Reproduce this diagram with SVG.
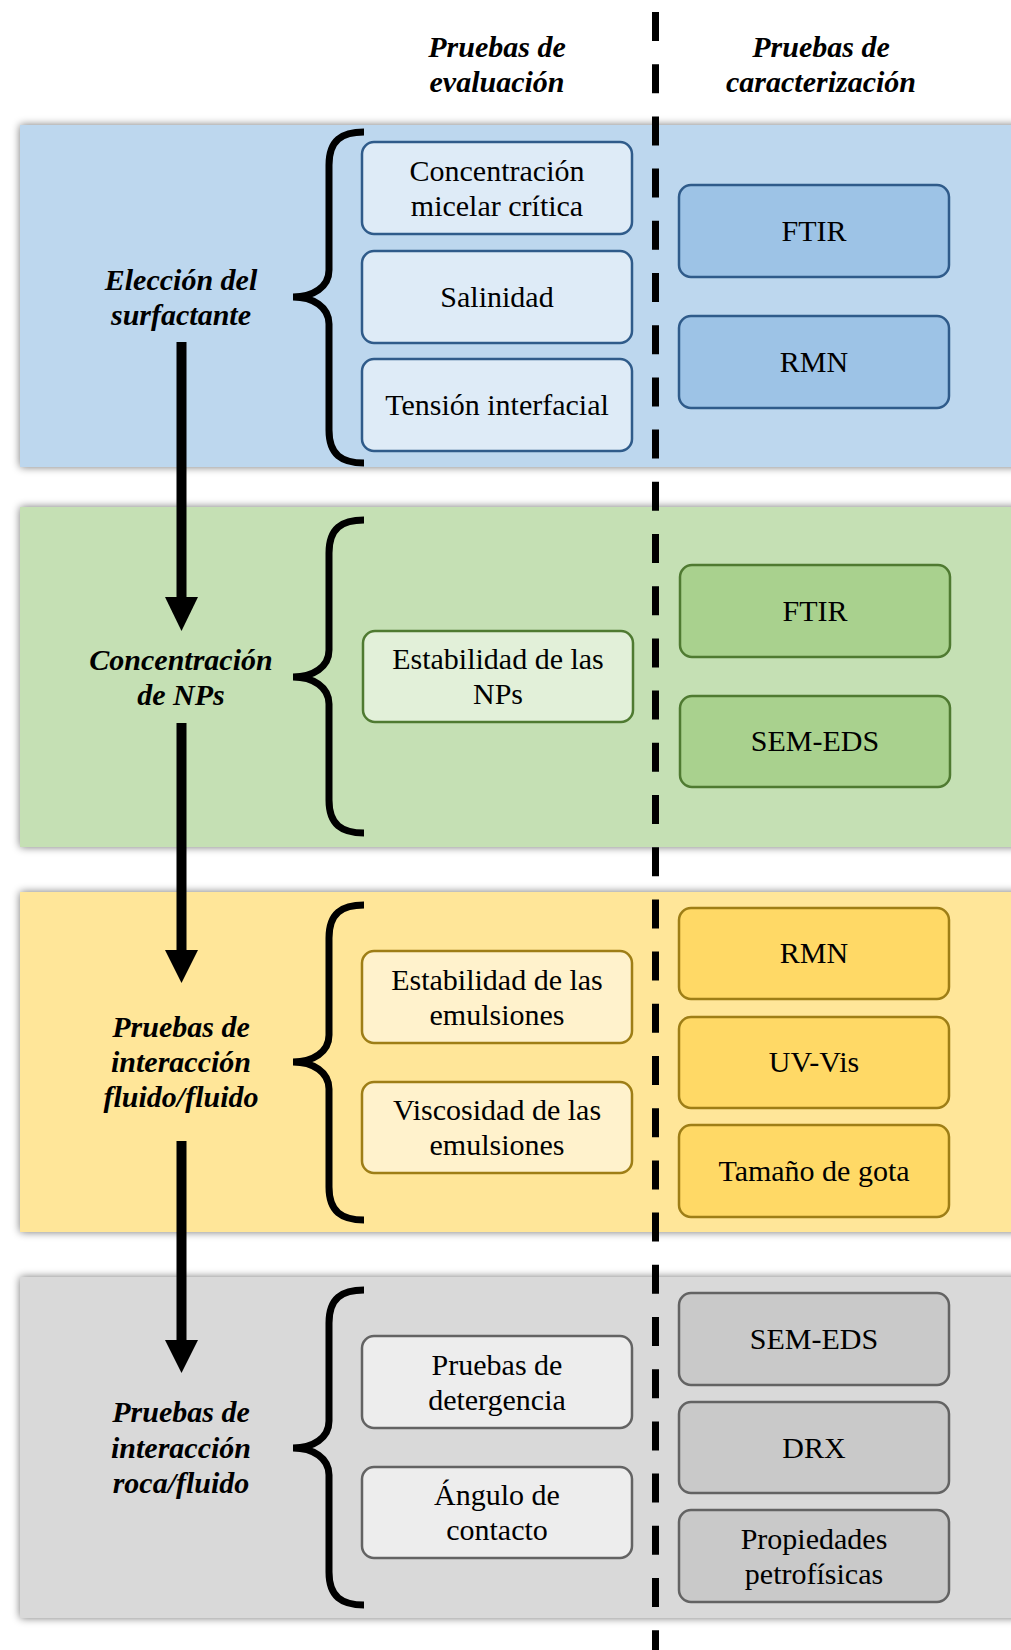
<svg xmlns="http://www.w3.org/2000/svg" width="1011" height="1650" viewBox="0 0 1011 1650">
<style>
text{font-family:"Liberation Serif","Times New Roman",serif;fill:#000;text-anchor:middle}
.h{font-size:30px;font-weight:bold;font-style:italic}
.t{font-size:30px}
.box{stroke-width:2.5}
.brace{fill:none;stroke:#000;stroke-width:7}
.b1l{fill:#DEEBF7;stroke:#2F5B8A}.b1r{fill:#9DC3E6;stroke:#2F5B8A}
.b2l{fill:#E2F0D9;stroke:#4F7A31}.b2r{fill:#A9D18E;stroke:#4F7A31}
.b3l{fill:#FFF2CC;stroke:#9E7E16}.b3r{fill:#FFD966;stroke:#9E7E16}
.b4l{fill:#EDEDED;stroke:#636363}.b4r{fill:#C9C9C9;stroke:#636363}
</style>
<defs>
<filter id="sh" x="-5%" y="-10%" width="110%" height="120%">
<feGaussianBlur in="SourceAlpha" stdDeviation="4"/>
<feComponentTransfer><feFuncA type="linear" slope="0.55"/></feComponentTransfer>
<feMerge><feMergeNode/><feMergeNode in="SourceGraphic"/></feMerge>
</filter>
</defs>
<rect width="1011" height="1650" fill="#fff"/>
<g id="bands" filter="url(#sh)">
<rect x="20" y="125" width="1010" height="342" fill="#BDD7EE"/>
<rect x="20" y="507" width="1010" height="340" fill="#C5E0B4"/>
<rect x="20" y="892" width="1010" height="340" fill="#FFE699"/>
<rect x="20" y="1277" width="1010" height="341" fill="#D9D9D9"/>
</g>
<g id="divider">
<line x1="655.5" y1="12" x2="655.5" y2="1650" stroke="#000" stroke-width="7" stroke-dasharray="29 23.2"/>
</g>
<g id="headers">
<text class="h" x="497" y="57">Pruebas de</text>
<text class="h" x="497" y="92">evaluación</text>
<text class="h" x="821" y="57">Pruebas de</text>
<text class="h" x="821" y="92">caracterización</text>
</g>
<g id="stage1">
<text class="h" x="181" y="290">Elección del</text>
<text class="h" x="181" y="325">surfactante</text>
</g>
<g id="stage2">
<text class="h" x="181" y="670">Concentración</text>
<text class="h" x="181" y="705">de NPs</text>
</g>
<g id="stage3">
<text class="h" x="181" y="1037">Pruebas de</text>
<text class="h" x="181" y="1072">interacción</text>
<text class="h" x="181" y="1107">fluido/fluido</text>
</g>
<g id="stage4">
<text class="h" x="181" y="1422">Pruebas de</text>
<text class="h" x="181" y="1458">interacción</text>
<text class="h" x="181" y="1493">roca/fluido</text>
</g>
<g id="braces">
<path class="brace" d="M364,132 C342,132 329,140 329,165 L329,270 C329,287 313,297 293,297 C313,297 329,307 329,324 L329,430 C329,455 342,463 364,463"/>
<path class="brace" d="M364,520 C342,520 329,528 329,553 L329,650 C329,667 313,677 293,677 C313,677 329,687 329,704 L329,800 C329,825 342,833 364,833"/>
<path class="brace" d="M364,905 C342,905 329,913 329,938 L329,1035 C329,1052 313,1062 293,1062 C313,1062 329,1072 329,1089 L329,1187 C329,1212 342,1220 364,1220"/>
<path class="brace" d="M364,1290 C342,1290 329,1298 329,1323 L329,1421 C329,1438 313,1448 293,1448 C313,1448 329,1458 329,1475 L329,1572 C329,1597 342,1605 364,1605"/>
</g>
<g id="n-cmc"><rect class="box b1l" x="362" y="142" width="270" height="92" rx="12"/><text class="t" x="497" y="181">Concentración</text><text class="t" x="497" y="216">micelar crítica</text></g>
<g id="n-sal"><rect class="box b1l" x="362" y="251" width="270" height="92" rx="12"/><text class="t" x="497" y="307">Salinidad</text></g>
<g id="n-ten"><rect class="box b1l" x="362" y="359" width="270" height="92" rx="12"/><text class="t" x="497" y="415">Tensión interfacial</text></g>
<g id="n-ftir1"><rect class="box b1r" x="679" y="185" width="270" height="92" rx="12"/><text class="t" x="814" y="241">FTIR</text></g>
<g id="n-rmn1"><rect class="box b1r" x="679" y="316" width="270" height="92" rx="12"/><text class="t" x="814" y="372">RMN</text></g>
<g id="n-estnp"><rect class="box b2l" x="363" y="631" width="270" height="91" rx="12"/><text class="t" x="498" y="669">Estabilidad de las</text><text class="t" x="498" y="704">NPs</text></g>
<g id="n-ftir2"><rect class="box b2r" x="680" y="565" width="270" height="92" rx="12"/><text class="t" x="815" y="621">FTIR</text></g>
<g id="n-sem2"><rect class="box b2r" x="680" y="696" width="270" height="91" rx="12"/><text class="t" x="815" y="751">SEM-EDS</text></g>
<g id="n-estem"><rect class="box b3l" x="362" y="951" width="270" height="92" rx="12"/><text class="t" x="497" y="990">Estabilidad de las</text><text class="t" x="497" y="1025">emulsiones</text></g>
<g id="n-visc"><rect class="box b3l" x="362" y="1082" width="270" height="91" rx="12"/><text class="t" x="497" y="1120">Viscosidad de las</text><text class="t" x="497" y="1155">emulsiones</text></g>
<g id="n-rmn3"><rect class="box b3r" x="679" y="908" width="270" height="91" rx="12"/><text class="t" x="814" y="963">RMN</text></g>
<g id="n-uv"><rect class="box b3r" x="679" y="1017" width="270" height="91" rx="12"/><text class="t" x="814" y="1072">UV-Vis</text></g>
<g id="n-gota"><rect class="box b3r" x="679" y="1125" width="270" height="92" rx="12"/><text class="t" x="814" y="1181">Tamaño de gota</text></g>
<g id="n-det"><rect class="box b4l" x="362" y="1336" width="270" height="92" rx="12"/><text class="t" x="497" y="1375">Pruebas de</text><text class="t" x="497" y="1410">detergencia</text></g>
<g id="n-ang"><rect class="box b4l" x="362" y="1467" width="270" height="91" rx="12"/><text class="t" x="497" y="1505">Ángulo de</text><text class="t" x="497" y="1540">contacto</text></g>
<g id="n-sem4"><rect class="box b4r" x="679" y="1293" width="270" height="92" rx="12"/><text class="t" x="814" y="1349">SEM-EDS</text></g>
<g id="n-drx"><rect class="box b4r" x="679" y="1402" width="270" height="91" rx="12"/><text class="t" x="814" y="1458">DRX</text></g>
<g id="n-prop"><rect class="box b4r" x="679" y="1510" width="270" height="92" rx="12"/><text class="t" x="814" y="1549">Propiedades</text><text class="t" x="814" y="1584">petrofísicas</text></g>
<g id="connectors">
<rect x="176.5" y="342" width="10" height="258"/>
<polygon points="165,597 198,597 181.5,631"/>
<rect x="176.5" y="723" width="10" height="230"/>
<polygon points="165,950 198,950 181.5,983"/>
<rect x="176.5" y="1141" width="10" height="202"/>
<polygon points="165,1340 198,1340 181.5,1373"/>
</g>
</svg>
